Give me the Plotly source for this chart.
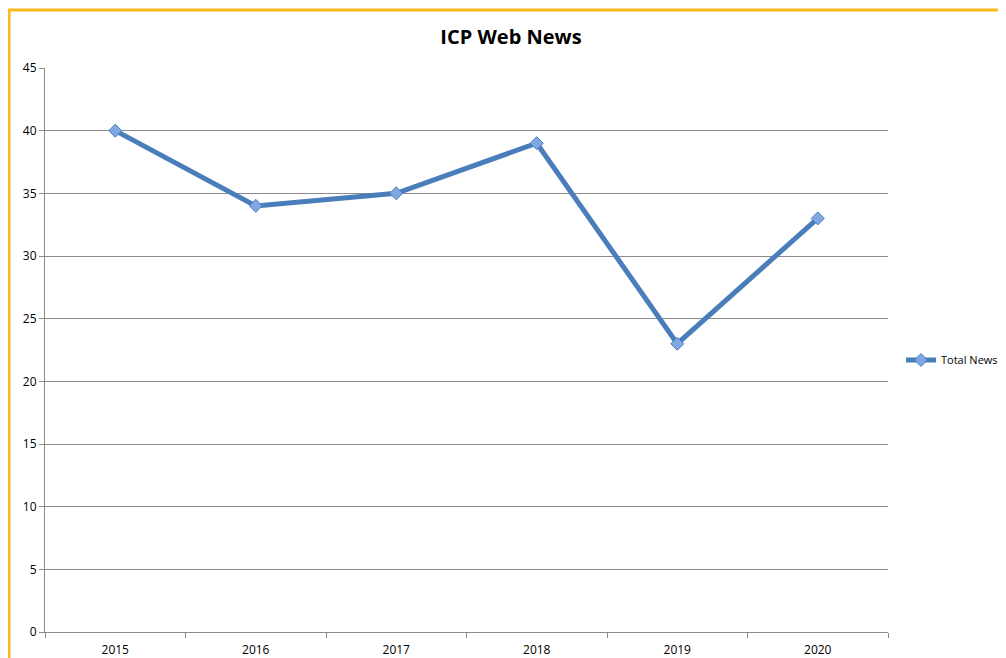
import plotly.graph_objects as go

years = ["2015", "2016", "2017", "2018", "2019", "2020"]
total_news = [40, 34, 35, 39, 23, 33]
y_ticks = [0, 5, 10, 15, 20, 25, 30, 35, 40, 45]

# page has an 8px body margin; work in figure coordinates
W, H = 998, 650
L, R, T, B = 37, 118, 60, 26
pw, ph = W - L - R, H - T - B

def px_x(x):
    return (x - L) / pw

def px_y(y):
    return 1 - (y - T) / ph

fig = go.Figure()
fig.add_trace(go.Scatter(
    x=years, y=total_news, mode="lines+markers", name="Total News",
    line=dict(color="#4A7EBB", width=5),
    marker=dict(symbol="diamond", size=10, color="#7FA8E3",
                line=dict(color="#4A7EBB", width=1)),
))

grid = "#8A8A8A"
fig.update_layout(
    width=W, height=H,
    margin=dict(l=L, r=R, t=T, b=B, autoexpand=False),
    paper_bgcolor="white", plot_bgcolor="white",
    font=dict(family="Open Sans, Liberation Sans, sans-serif", size=12, color="#000000"),
    title=dict(text="<b>ICP Web News</b>", x=503 / W, xref="container",
               xanchor="center", y=1 - 29 / H, yanchor="middle",
               font=dict(family="Open Sans, Liberation Sans, sans-serif", size=20, color="#000000")),
    xaxis=dict(range=[-0.5, 5.5], showgrid=False, showline=True, linecolor=grid, linewidth=1,
               ticks="outside", tickson="boundaries", ticklen=5, tickcolor=grid,
               tickfont=dict(size=12), zeroline=False, automargin=False,
               ticklabelstandoff=7),
    yaxis=dict(range=[0, 45], tickvals=y_ticks, showgrid=True, gridcolor=grid, gridwidth=1,
               showline=True, linecolor=grid, linewidth=1, ticks="outside", ticklen=5,
               tickcolor=grid, tickfont=dict(size=12), zeroline=False, automargin=False),
    legend=dict(x=px_x(893), y=px_y(352), xanchor="left", yanchor="middle",
                font=dict(size=11), bgcolor="rgba(0,0,0,0)", itemwidth=30,
                borderwidth=0, tracegroupgap=0),
    showlegend=True,
)

# orange frame (top and left edges of chart area border)
fig.add_shape(type="path", xref="paper", yref="paper",
              path=f"M {px_x(1)} {px_y(H + 20)} L {px_x(1)} {px_y(2)} L {px_x(W + 20)} {px_y(2)}",
              line=dict(color="#FFB81C", width=3))

fig.write_html("out.html")
